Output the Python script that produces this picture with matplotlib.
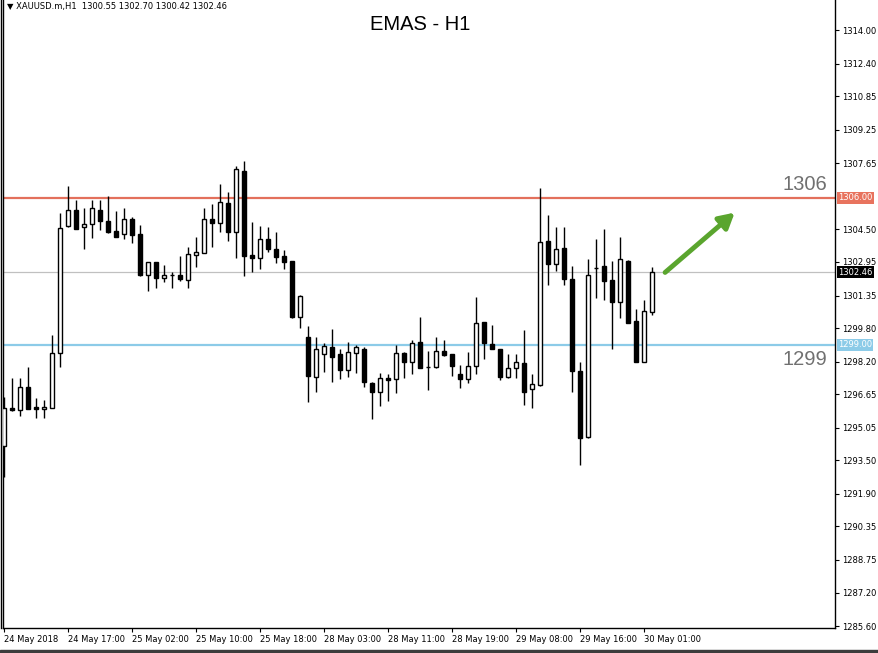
import numpy as np
import matplotlib
matplotlib.use("Agg")
import matplotlib.pyplot as plt
from matplotlib.lines import Line2D
from matplotlib.patches import Rectangle

# XAUUSD H1 candles
opens = [1294.18, 1296.01, 1295.88, 1296.98, 1296.03, 1295.93, 1296.01, 1298.60, 1304.65, 1305.41,
         1304.60, 1304.74, 1305.41, 1304.90, 1304.42, 1304.27, 1304.98, 1304.28, 1302.33, 1302.93,
         1302.17, 1302.33, 1302.31, 1302.08, 1303.30, 1303.39, 1304.98, 1304.79, 1305.74, 1304.39,
         1307.28, 1303.27, 1303.15, 1304.03, 1303.57, 1303.23, 1303.00, 1300.31, 1299.36, 1297.48,
         1298.55, 1298.88, 1298.56, 1297.80, 1298.60, 1298.80, 1297.17, 1296.77, 1297.41, 1297.36,
         1298.60, 1298.17, 1299.12, 1297.93, 1297.93, 1298.71, 1298.55, 1297.61, 1297.36, 1298.01,
         1300.07, 1299.03, 1298.79, 1297.48, 1297.88, 1298.12, 1296.88, 1297.09, 1303.95, 1302.84,
         1303.60, 1302.12, 1297.75, 1294.60, 1302.68, 1302.76, 1302.09, 1301.03, 1303.00, 1300.14,
         1298.20, 1300.55]
highs = [1296.50, 1297.41, 1297.41, 1297.93, 1296.45, 1296.37, 1299.47, 1305.27, 1306.57, 1305.90,
         1305.51, 1305.90, 1305.90, 1306.09, 1305.38, 1305.51, 1305.09, 1304.71, 1302.95, 1302.95,
         1302.80, 1302.46, 1303.23, 1303.68, 1304.12, 1305.51, 1305.71, 1306.66, 1306.27, 1307.54,
         1307.76, 1304.87, 1304.66, 1304.60, 1304.38, 1303.52, 1303.00, 1301.38, 1299.90, 1299.36,
         1299.10, 1299.76, 1298.80, 1299.12, 1298.99, 1298.91, 1297.22, 1297.65, 1297.61, 1298.99,
         1298.67, 1299.23, 1300.34, 1298.71, 1299.36, 1299.23, 1298.56, 1298.04, 1298.67, 1301.29,
         1300.09, 1299.95, 1298.80, 1298.55, 1298.55, 1299.71, 1297.61, 1306.49, 1305.19, 1304.60,
         1304.60, 1302.76, 1298.17, 1303.09, 1304.03, 1304.52, 1303.00, 1304.12, 1303.04, 1300.69,
         1301.14, 1302.70]
lows = [1292.72, 1295.85, 1295.63, 1295.94, 1295.50, 1295.53, 1295.98, 1297.93, 1304.61, 1304.50,
        1303.55, 1304.11, 1304.47, 1304.34, 1304.14, 1304.03, 1303.87, 1302.30, 1301.58, 1301.72,
        1302.01, 1301.72, 1302.04, 1301.72, 1302.72, 1303.38, 1303.65, 1304.39, 1303.96, 1303.15,
        1302.28, 1302.46, 1302.61, 1303.44, 1302.91, 1302.61, 1300.27, 1299.82, 1296.26, 1296.77,
        1297.72, 1297.25, 1297.36, 1297.48, 1297.67, 1297.01, 1295.45, 1296.09, 1296.34, 1296.72,
        1297.41, 1297.61, 1297.90, 1296.85, 1297.90, 1298.48, 1297.53, 1296.96, 1297.17, 1297.60,
        1298.33, 1298.78, 1297.33, 1297.41, 1297.41, 1296.13, 1295.98, 1297.04, 1301.85, 1302.53,
        1301.85, 1296.74, 1293.28, 1294.55, 1301.22, 1301.14, 1298.79, 1300.29, 1300.03, 1298.18,
        1298.17, 1300.42]
closes = [1295.98, 1295.88, 1296.98, 1295.96, 1295.93, 1296.03, 1298.60, 1304.55, 1305.41, 1304.52,
          1304.76, 1305.51, 1304.92, 1304.39, 1304.15, 1304.98, 1304.23, 1302.33, 1302.93, 1302.17,
          1302.31, 1302.33, 1302.15, 1303.31, 1303.42, 1304.98, 1304.79, 1305.79, 1304.39, 1307.36,
          1303.23, 1303.15, 1304.03, 1303.55, 1303.20, 1302.96, 1300.34, 1301.33, 1297.53, 1298.79,
          1298.95, 1298.44, 1297.80, 1298.65, 1298.88, 1297.25, 1296.77, 1297.41, 1297.33, 1298.60,
          1298.20, 1299.10, 1297.91, 1297.93, 1298.71, 1298.52, 1298.01, 1297.37, 1297.99, 1300.03,
          1299.10, 1298.79, 1297.48, 1297.88, 1298.17, 1296.74, 1297.12, 1303.89, 1302.84, 1303.55,
          1302.12, 1297.77, 1294.55, 1302.31, 1302.66, 1302.06, 1301.06, 1303.08, 1300.06, 1298.20,
          1300.63, 1302.46]

time_labels = ["24 May 2018", "24 May 17:00", "25 May 02:00", "25 May 10:00", "25 May 18:00",
               "28 May 03:00", "28 May 11:00", "28 May 19:00", "29 May 08:00", "29 May 16:00",
               "30 May 01:00"]
price_ticks = [1314.00, 1312.40, 1310.85, 1309.25, 1307.65, 1304.50, 1302.95, 1301.35, 1299.80,
               1298.20, 1296.65, 1295.05, 1293.50, 1291.90, 1290.35, 1288.75, 1287.20, 1285.60]
resistance = 1306.00
support = 1299.00
last_price = closes[-1]

W, H = 879, 653
fig = plt.figure(figsize=(W / 100, H / 100), dpi=100)
ax = fig.add_axes([3 / W, 25 / H, 832 / W, 628 / H])

o = np.array(opens)
c = np.array(closes)
x = np.arange(len(o))
up = c >= o

# wicks, then bodies on top
ax.vlines(x, lows, highs, color="black", lw=1, zorder=2)
ax.bar(x, np.abs(c - o), bottom=np.minimum(o, c), width=0.55,
       color=np.where(up, "white", "black"), edgecolor="black", lw=1, zorder=3)

# horizontal levels
ax.axhline(resistance, color="#e3705c", lw=1.6, zorder=1)
ax.axhline(support, color="#8ccbe8", lw=1.6, zorder=1)
ax.axhline(last_price, color="#c0c0c0", lw=0.9, zorder=1)

ax.set_xlim(-0.16, 103.84)
ax.set_ylim(1285.51, 1315.43)

# right price scale
ax.yaxis.tick_right()
ax.set_yticks(price_ticks)
ax.set_yticklabels([f"{p:.2f}" for p in price_ticks])
ax.tick_params(axis="y", length=3, width=0.8, pad=2, labelsize=6)
ax.set_xticks(x[::8][:len(time_labels)])
ax.set_xticklabels(time_labels)
ax.tick_params(axis="x", length=3, width=0.8, pad=2, labelsize=6)
for lbl in ax.get_xticklabels():
    lbl.set_horizontalalignment("left")
for s in ["top"]:
    ax.spines[s].set_visible(False)
for s in ["left", "right", "bottom"]:
    ax.spines[s].set_linewidth(1)

# price boxes on the scale
for val, bg in [(resistance, "#e8735e"), (last_price, "black"), (support, "#8ccbe8")]:
    ax.annotate(f"{val:.2f}", xy=(1.0, val), xycoords=("axes fraction", "data"),
                xytext=(3, 0), textcoords="offset pixels", va="center", ha="left",
                fontsize=6, color="white",
                bbox=dict(boxstyle="square,pad=0.15", fc=bg, ec="none"), zorder=5,
                annotation_clip=False)

# level labels
ax.text(102.84, 1306.38, "1306", ha="right", va="baseline", fontsize=14.5,
        color="#707070", family="Liberation Sans")
ax.text(102.84, 1298.04, "1299", ha="right", va="baseline", fontsize=14.5,
        color="#707070", family="Liberation Sans")

# green arrow
ax.annotate("", xy=(91.3, 1305.3), xytext=(82.6, 1302.45),
            arrowprops=dict(arrowstyle="-|>,head_length=0.9,head_width=0.5",
                            color="#5aa52e", lw=3.5, shrinkA=0, shrinkB=0))

# header and title
fig.text(7 / W, 1 - 7 / H, "\u25bc XAUUSD.m,H1  1300.55 1302.70 1300.42 1302.46",
         fontsize=6, va="center", ha="left")
fig.text(420 / W, 1 - 25 / H, "EMAS - H1", fontsize=14.5, ha="center", va="center",
         family="Liberation Sans")

# window frame bits
fig.add_artist(Line2D([0.6 / W, 0.6 / W], [25 / H, 1], color="black", lw=1))
fig.add_artist(Rectangle((0, 0), 1, 3 / H, transform=fig.transFigure, color="#3c3c3c"))

fig.savefig("out.png", dpi=100)
